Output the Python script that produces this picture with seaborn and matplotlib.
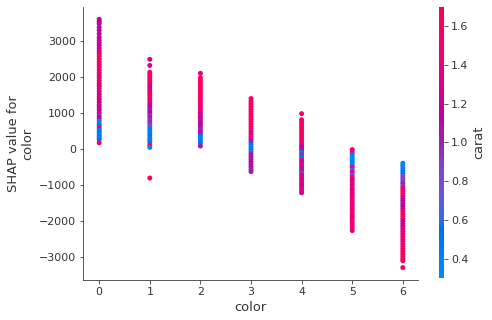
import numpy as np
import pandas as pd
import matplotlib
matplotlib.use("Agg")
import matplotlib.pyplot as plt
from matplotlib.colors import LinearSegmentedColormap, Normalize
from matplotlib.cm import ScalarMappable
import seaborn as sns

# ---- data (x = color code, y = SHAP value, hue = carat) ----
ys0 = [3600, 3540, 3480, 3380, 3300, 3200, 3100, 3020, 2950, 2880, 2800, 2720, 2650, 2580, 2500, 2420,
       2350, 2280, 2200, 2120, 2050, 1980, 1900, 1820, 1750, 1680, 1600, 1520, 1450, 1380, 1300, 1220,
       1150, 1080, 1000, 920, 850, 780, 700, 640, 580, 520, 460, 400, 350, 300, 260, 170]
carat0 = [1.15, 1.12, 1.15, 1.1, 1.15, 1.2, 1.15, 1.2, 1.25, 1.2, 1.3, 1.25, 1.3, 1.6, 1.65, 1.6,
          1.55, 1.5, 1.35, 1.6, 1.45, 1.3, 1.55, 1.4, 1.25, 1.5, 1.35, 1.2, 1.45, 1.3, 1.15, 1.4,
          1.25, 1.1, 1.3, 1.0, 1.15, 0.6, 0.45, 0.5, 1.5, 0.4, 0.55, 0.4, 0.45, 0.4, 0.45, 1.6]

ys1 = [2490, 2320, 2130, 2060, 1990, 1920, 1850, 1780, 1710, 1640, 1570, 1500, 1430, 1360, 1290, 1220,
       1150, 1080, 1010, 940, 870, 800, 730, 660, 590, 520, 450, 380, 310, 250, 190, 110, 40, -810]
carat1 = [1.3, 1.35, 1.6, 1.65, 1.6, 1.55, 1.6, 1.3, 1.2, 1.35, 1.5, 1.6, 1.55, 1.4, 1.5, 1.2,
          1.1, 1.0, 1.15, 0.95, 1.05, 0.9, 1.0, 0.85, 0.6, 0.45, 0.4, 0.5, 0.45, 0.4, 0.45, 1.6, 0.4, 1.6]

ys2 = [2100, 1980, 1910, 1840, 1770, 1700, 1630, 1560, 1490, 1420, 1350, 1280, 1210, 1140, 1070,
       1000, 930, 860, 790, 720, 650, 580, 510, 440, 370, 300, 230, 160, 80]
carat2 = [1.35, 1.6, 1.65, 1.6, 1.55, 1.65, 1.6, 1.55, 1.6, 1.5, 1.6, 1.45, 1.55, 1.35, 1.5,
          1.3, 1.4, 1.2, 1.3, 1.1, 1.15, 1.05, 1.0, 1.1, 0.5, 0.4, 0.45, 0.5, 1.05]

ys3 = [1400, 1320, 1250, 1180, 1110, 1040, 970, 900, 830, 760, 690, 620, 550, 480, 410, 340, 270,
       200, 130, 60, -10, -80, -150, -220, -290, -360, -430, -500, -570, -630]
carat3 = [1.6, 1.65, 1.6, 1.6, 1.65, 1.55, 1.6, 1.6, 1.55, 1.65, 1.6, 1.5, 1.55, 1.45, 1.35, 1.4, 1.3,
          1.25, 0.5, 0.4, 0.45, 0.6, 1.05, 1.1, 1.0, 1.1, 1.05, 1.1, 1.0, 1.05]

ys4 = [980, 810, 740, 670, 600, 530, 460, 390, 320, 250, 180, 110, 40, -30, -100, -170, -240, -310,
       -380, -450, -520, -590, -660, -730, -800, -870, -940, -1010, -1080, -1150, -1220]
carat4 = [1.6, 1.65, 1.6, 1.55, 1.6, 1.65, 1.6, 1.55, 1.6, 1.5, 1.55, 1.3, 1.15, 1.2, 0.5, 1.0, 0.45, 1.3,
          1.2, 1.35, 1.25, 1.1, 0.9, 1.3, 1.4, 1.25, 1.35, 1.2, 1.3, 1.4, 1.25]

ys5 = [-20, -90, -160, -230, -300, -370, -440, -510, -580, -650, -720, -790, -860, -930, -1000, -1070,
       -1140, -1210, -1280, -1350, -1420, -1490, -1560, -1630, -1700, -1770, -1840, -1910, -1980,
       -2050, -2120, -2190, -2270]
carat5 = [1.55, 1.6, 0.4, 0.35, 0.4, 0.45, 0.4, 1.5, 0.75, 1.4, 0.8, 1.6, 1.2, 1.5, 1.3, 1.6,
          1.15, 1.45, 1.2, 1.55, 1.35, 1.6, 1.25, 1.5, 1.3, 1.6, 1.45, 1.2, 1.55,
          1.6, 1.35, 1.6, 1.4]

ys6 = [-400, -470, -540, -610, -680, -750, -820, -890, -960, -1030, -1100, -1170, -1240, -1310, -1380,
       -1450, -1520, -1590, -1660, -1730, -1800, -1870, -1940, -2010, -2080, -2150, -2220, -2290, -2360,
       -2430, -2500, -2570, -2640, -2710, -2780, -2850, -2920, -2990, -3060, -3110, -3300]
carat6 = [0.4, 0.35, 0.4, 0.45, 0.5, 0.8, 0.9, 0.85, 1.0, 0.95, 1.4, 1.6, 1.5, 1.55, 1.1,
          1.2, 1.05, 1.15, 1.1, 1.6, 1.65, 1.55, 1.6, 1.15, 1.1, 1.2, 1.45, 1.35, 1.5,
          1.4, 1.55, 1.3, 1.5, 1.45, 1.6, 1.55, 1.6, 1.65, 1.6, 1.6, 1.5]

color_codes = [0, 1, 2, 3, 4, 5, 6]
shap_cols = [ys0, ys1, ys2, ys3, ys4, ys5, ys6]
carat_cols = [carat0, carat1, carat2, carat3, carat4, carat5, carat6]
carat_range = (0.30, 1.70)

rows = []
for code, ys, cs in zip(color_codes, shap_cols, carat_cols):
    for y, c in zip(ys, cs):
        rows.append((code, y, c))
df = pd.DataFrame(rows, columns=["color", "shap", "carat"])


# ---- SHAP red_blue colormap (LCH interpolation) ----
def lch2rgb(lch):
    L, C, h = lch
    a, b = C * np.cos(h), C * np.sin(h)
    fy = (L + 16) / 116.0
    fx = fy + a / 500.0
    fz = fy - b / 200.0

    def finv(t):
        return t ** 3 if t > 6 / 29 else 3 * (6 / 29) ** 2 * (t - 4 / 29)

    X, Y, Z = 0.95047 * finv(fx), finv(fy), 1.08883 * finv(fz)
    M = np.array([[3.2406, -1.5372, -0.4986],
                  [-0.9689, 1.8758, 0.0415],
                  [0.0557, -0.2040, 1.0570]])
    rgb = M @ np.array([X, Y, Z])
    out = []
    for v in rgb:
        v = 1.055 * v ** (1 / 2.4) - 0.055 if v > 0.0031308 else 12.92 * v
        out.append(min(max(v, 0.0), 1.0))
    return out


blue_lch = [54.0, 70.0, 4.6588]
red_lch = [54.0, 90.0, 0.35470565 + 2 * np.pi]
l_mid = 40.0
nsteps = 100
l_vals = list(np.linspace(blue_lch[0], l_mid, nsteps // 2)) + list(np.linspace(l_mid, red_lch[0], nsteps // 2))
c_vals = np.linspace(blue_lch[1], red_lch[1], nsteps)
h_vals = np.linspace(blue_lch[2], red_lch[2], nsteps)
cols = [lch2rgb([l, c, h]) for l, c, h in zip(l_vals, c_vals, h_vals)]
red_blue = LinearSegmentedColormap.from_list("red_blue", cols)

# ---- figure ----
W, H, DPI = 492, 320, 72
fig = plt.figure(figsize=(W / DPI, H / DPI), dpi=DPI)
ax = fig.add_axes([83 / W, 1 - 280 / H, (418 - 83) / W, (280 - 7) / H])

axis_color = "#333333"
sns.scatterplot(data=df, x="color", y="shap", hue="carat", palette=red_blue,
                hue_norm=carat_range, s=25, linewidth=0, legend=False, ax=ax)

ax.set_xticks(color_codes)
ax.set_xlim(-0.32, 6.3)
ax.set_xlabel("color", fontsize=13, color=axis_color)
ax.set_ylabel("SHAP value for\ncolor", fontsize=13, color=axis_color)
for side in ["top", "right"]:
    ax.spines[side].set_visible(False)
for side in ["left", "bottom"]:
    ax.spines[side].set_color(axis_color)
ax.tick_params(color=axis_color, labelcolor=axis_color, labelsize=11)

cax = fig.add_axes([439 / W, 1 - 278 / H, 5 / W, (278 - 7) / H])
sm = ScalarMappable(norm=Normalize(*carat_range), cmap=red_blue)
cb = fig.colorbar(sm, cax=cax)
cb.outline.set_visible(False)
cb.set_ticks([0.4, 0.6, 0.8, 1.0, 1.2, 1.4, 1.6])
cb.ax.tick_params(labelsize=11, color=axis_color, labelcolor=axis_color)
cb.set_label("carat", size=13, color=axis_color)

fig.savefig("out.png", dpi=DPI)
